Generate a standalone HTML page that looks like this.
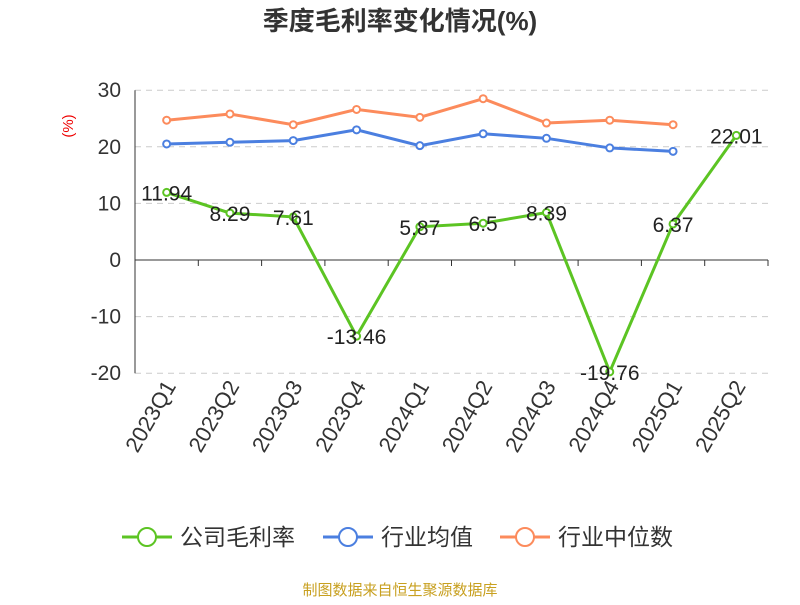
<!DOCTYPE html>
<html><head><meta charset="utf-8"><style>
body{margin:0;width:800px;height:600px;background:#fff;font-family:"Liberation Sans","Noto Sans CJK SC",sans-serif;}
</style></head><body>
<svg width="800" height="600" id="c" style="font-family:'Liberation Sans','Noto Sans CJK SC',sans-serif"></svg>
<script>
const categories=["2023Q1","2023Q2","2023Q3","2023Q4","2024Q1","2024Q2","2024Q3","2024Q4","2025Q1","2025Q2"];
const grossMargin=[11.94,8.29,7.61,-13.46,5.87,6.5,8.39,-19.76,6.37,22.01];
const industryAvg=[20.5,20.8,21.1,23.0,20.2,22.3,21.5,19.8,19.2];
const industryMedian=[24.7,25.8,23.9,26.6,25.2,28.5,24.2,24.7,23.9];
const yTicks=[30,20,10,0,-10,-20];
const NS="http://www.w3.org/2000/svg";
const svg=document.getElementById('c');
const L=135,R=768,band=(R-L)/categories.length;
const x=i=>L+band*(i+0.5);
const y=v=>260-v*5.66;
function el(t,a,p){const e=document.createElementNS(NS,t);for(const k in a)e.setAttribute(k,a[k]);(p||svg).appendChild(e);return e;}
let t=el('text',{x:400,y:30,'text-anchor':'middle','font-size':26,'font-weight':'bold',fill:'#333'});t.textContent='季度毛利率变化情况(%)';

t=el('text',{x:73,y:126,'text-anchor':'middle','font-size':15,fill:'#e00',transform:'rotate(-90 73 126)'});t.textContent='(%)';

yTicks.forEach(v=>{
 if(v!==0){const g=el('line',{x1:L,x2:R,y1:y(v),y2:y(v),stroke:'#ccc','stroke-dasharray':'6,5'});
 }
 const tx=el('text',{x:L-14,y:y(v)+7,'text-anchor':'end','font-size':21,fill:'#333'});tx.textContent=v;
 
});
let ax=el('line',{x1:L,x2:L,y1:y(30),y2:y(-20),stroke:'#333'});

ax=el('line',{x1:L,x2:R,y1:y(0),y2:y(0),stroke:'#333'});

for(let i=0;i<=categories.length;i++){const tk=el('line',{x1:L+band*i,x2:L+band*i,y1:y(0),y2:y(0)+6,stroke:'#333'});
 }
categories.forEach((c,i)=>{const tx=el('text',{x:x(i)+10,y:386,'text-anchor':'end','font-size':22,fill:'#333',transform:`rotate(-60 ${x(i)+10} 386)`});tx.textContent=c;
 });
function series(data,color,name,labels){
 const g=el('g',{});
 el('polyline',{points:data.map((v,i)=>x(i)+','+y(v)).join(' '),fill:'none',stroke:color,'stroke-width':3},g);
 data.forEach((v,i)=>{const p=el('circle',{cx:x(i),cy:y(v),r:3.5,fill:'#fff',stroke:color,'stroke-width':2},g);
  
  if(labels){const tx=el('text',{x:x(i),y:y(v)+8,'text-anchor':'middle','font-size':21,fill:'#222'},g);tx.textContent=v;
  }});
}
series(industryMedian,'#fc8b5c','industry-median');
series(industryAvg,'#4b7fe0','industry-avg');
series(grossMargin,'#5cc423','gross-margin',true);
const leg=[['公司毛利率','#5cc423',122],['行业均值','#4b7fe0',323],['行业中位数','#fc8b5c',500]];
leg.forEach(([n,c,lx])=>{const g=el('g',{});
 el('line',{x1:lx,x2:lx+50,y1:537,y2:537,stroke:c,'stroke-width':3},g);
 el('circle',{cx:lx+25,cy:537,r:9,fill:'#fff',stroke:c,'stroke-width':2},g);
 const tx=el('text',{x:lx+58,y:545,'font-size':23,fill:'#333'},g);tx.textContent=n;});
t=el('text',{x:400,y:595,'text-anchor':'middle','font-size':15,fill:'#c8a020'});t.textContent='制图数据来自恒生聚源数据库';

</script></body></html>
